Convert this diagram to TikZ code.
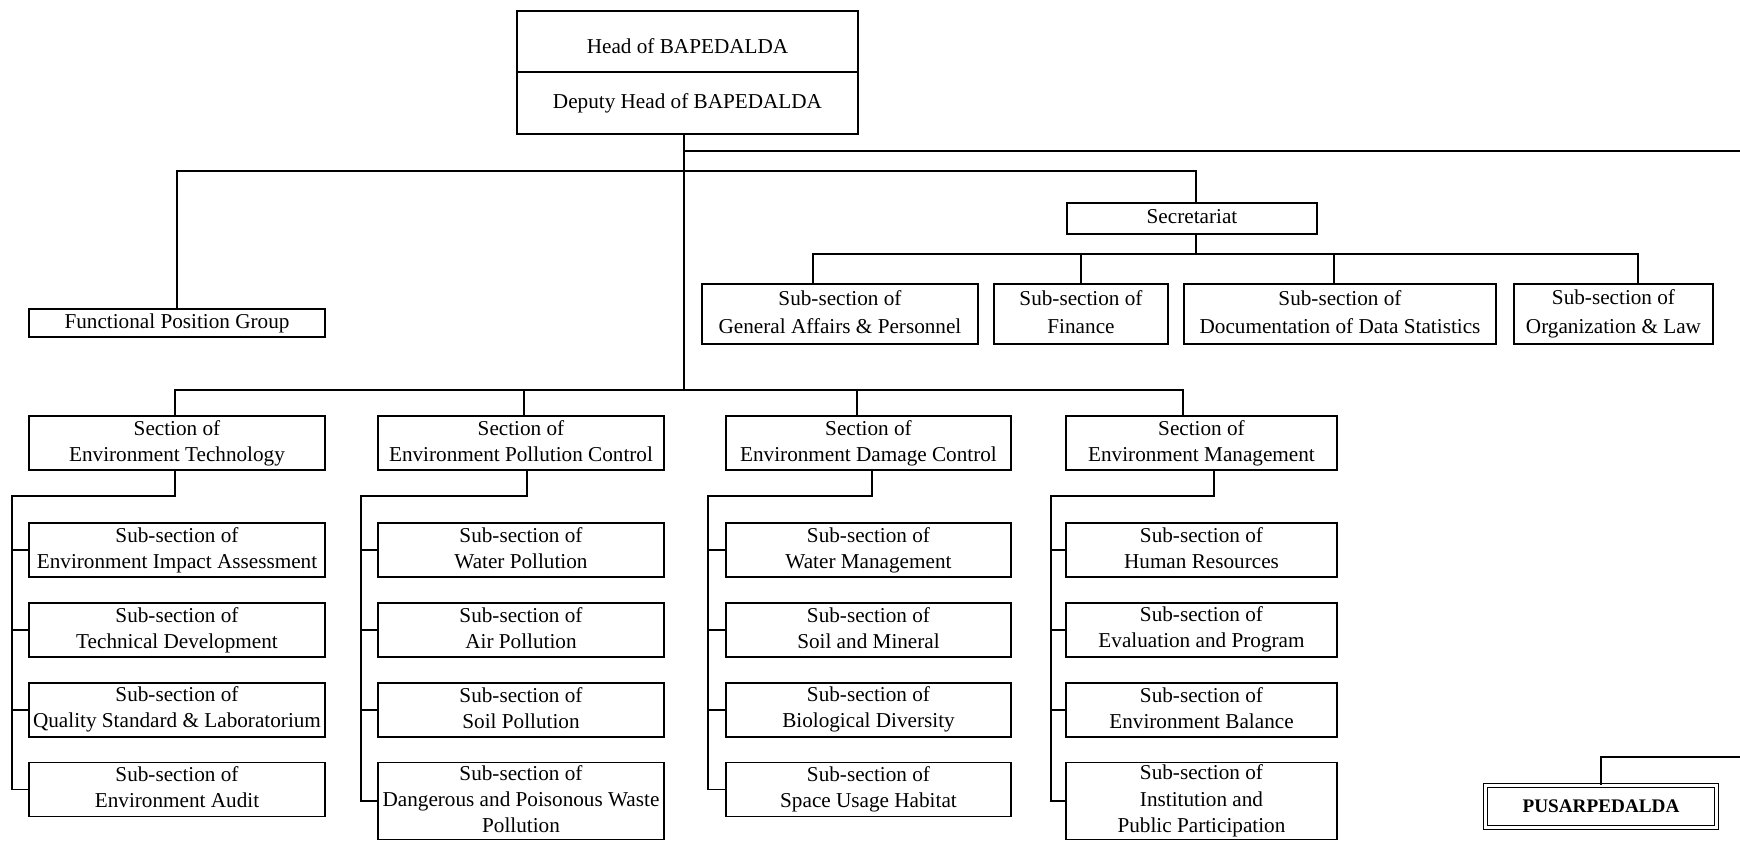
\documentclass[tikz,border=0pt]{standalone}
\usepackage{fontspec}
\setmainfont{Liberation Serif}
\usetikzlibrary{positioning}
\newcommand{\boxstrut}{\rule[-1.9pt]{0pt}{12.8pt}}

\begin{document}
\begin{tikzpicture}[x=0.5pt, y=-0.5pt,
    frame/.style={draw, line width=0.9pt, align=center, inner sep=0pt},
    box/.style={frame, font=\fontsize{10.6}{12.6}\selectfont,
      execute at begin node=\strut, execute at end node=\strut},
    unit/.style={frame, minimum height=27pt, font=\fontsize{10.6}{13}\selectfont,
      execute at begin node=\boxstrut, execute at end node=\boxstrut},
    wide/.style={unit, minimum height=30pt, font=\fontsize{10.6}{14.2}\selectfont},
    tall/.style={unit, minimum height=38.5pt, font=\fontsize{10.6}{13.2}\selectfont},
    link/.style={line width=0.9pt}]
    \useasboundingbox (0,0) rectangle (1740,842);

    % Heads
    % ---------------------
    \node[box, minimum width=170.5pt, minimum height=30.5pt] (head) at (687.5,41.5) {\raisebox{-3.5pt}{Head of BAPEDALDA}};
    \node[box, minimum width=170.5pt, minimum height=31pt, below=-0.9pt of head] (deputy) {Deputy Head of BAPEDALDA};

    % Staff line
    % ---------------------
    \node[box, minimum width=148pt, minimum height=14pt] (func) at (177,323) {Functional Position Group};
    \node[box, minimum width=125pt, minimum height=15.5pt] (secr) at (1192,218.5) {Secretariat};
    \node[wide, minimum width=138pt] (gen) at (840,314) {Sub-section of\\General Affairs \& Personnel};
    \node[wide, minimum width=87pt] (fin) at (1081,314) {Sub-section of\\Finance};
    \node[wide, minimum width=156pt] (doc) at (1340,314) {Sub-section of\\Documentation of Data Statistics};
    \node[wide, minimum width=99.5pt] (org) at (1613.5,314) {Sub-section of\\Organization \& Law};
    \node[draw, double, double distance=1.5pt, line width=0.6pt, inner sep=0pt,
      minimum width=115.3pt, minimum height=20.8pt, font=\fontsize{9.6}{11}\selectfont\bfseries] (pus) at (1601,806.5) {PUSARPEDALDA};

    % Sections
    % ---------------------
    \node[unit, minimum width=148pt] (tech) at (177,443) {Section of\\Environment Technology};
    \node[unit, minimum width=143pt] (poll) at (521,443) {Section of\\Environment Pollution Control};
    \node[unit, minimum width=142.5pt] (dmg) at (868.5,443) {Section of\\Environment Damage Control};
    \node[unit, minimum width=135.5pt] (mgmt) at (1201.5,443) {Section of\\Environment Management};

    % Sub-sections, technology
    \node[unit, minimum width=148pt] (t1) at (177,550) {Sub-section of\\Environment Impact Assessment};
    \node[unit, minimum width=148pt, below=12pt of t1] (t2) {Sub-section of\\Technical Development};
    \node[unit, minimum width=148pt, below=12pt of t2] (t3) {Sub-section of\\Quality Standard \& Laboratorium};
    \node[unit, minimum width=148pt, below=12pt of t3] (t4) {Sub-section of\\Environment Audit};

    % Sub-sections, pollution control
    \node[unit, minimum width=143pt] (p1) at (521,550) {Sub-section of\\Water Pollution};
    \node[unit, minimum width=143pt, below=12pt of p1] (p2) {Sub-section of\\Air Pollution};
    \node[unit, minimum width=143pt, below=12pt of p2] (p3) {Sub-section of\\Soil Pollution};
    \node[tall, minimum width=143pt, below=12pt of p3] (p4) {Sub-section of\\Dangerous and Poisonous Waste\\Pollution};

    % Sub-sections, damage control
    \node[unit, minimum width=142.5pt] (d1) at (868.5,550) {Sub-section of\\Water Management};
    \node[unit, minimum width=142.5pt, below=12pt of d1] (d2) {Sub-section of\\Soil and Mineral};
    \node[unit, minimum width=142.5pt, below=12pt of d2] (d3) {Sub-section of\\Biological Diversity};
    \node[unit, minimum width=142.5pt, below=12pt of d3] (d4) {Sub-section of\\Space Usage Habitat};

    % Sub-sections, management
    \node[unit, minimum width=135.5pt] (m1) at (1201.5,550) {Sub-section of\\Human Resources};
    \node[unit, minimum width=135.5pt, below=12pt of m1] (m2) {Sub-section of\\Evaluation and Program};
    \node[unit, minimum width=135.5pt, below=12pt of m2] (m3) {Sub-section of\\Environment Balance};
    \node[tall, minimum width=135.5pt, below=12pt of m3] (m4) {Sub-section of\\Institution and\\Public Participation};

    % Rails
    % ---------------------
    \coordinate (toprail) at (1740,151);
    \coordinate (siderail) at (0,171);
    \coordinate (secrail) at (0,254);
    \coordinate (sectionrail) at (0,390);
    \coordinate (subrail) at (0,496);
    \coordinate (pusrail) at (1740,757);

    \draw[link] ([xshift=-1.75pt]deputy.south) -- ([xshift=-1.75pt]deputy.south |- sectionrail);
    \draw[link] ([xshift=-1.75pt]deputy.south |- toprail) -- (toprail);
    \draw[link] (func.north) |- ([xshift=2pt]secr.north |- siderail) -- ([xshift=2pt]secr.north);
    \draw[link] (pus.north) |- (pusrail);

    % Secretariat
    \draw[link] ([xshift=2pt]secr.south) -- ([xshift=2pt]secr.south |- secrail);
    \draw[link] ([xshift=-13.5pt]gen.north) |- ([xshift=12.25pt]org.north |- secrail) -- ([xshift=12.25pt]org.north);
    \draw[link] (fin.north) -- (fin.north |- secrail);
    \draw[link] ([xshift=-3pt]doc.north) -- ([xshift=-3pt]doc.north |- secrail);

    % Sections
    \draw[link] ([xshift=-1pt]tech.north) |- ([xshift=-9.25pt]mgmt.north |- sectionrail) -- ([xshift=-9.25pt]mgmt.north);
    \draw[link] ([xshift=1.5pt]poll.north) -- ([xshift=1.5pt]poll.north |- sectionrail);
    \draw[link] ([xshift=-5.75pt]dmg.north) -- ([xshift=-5.75pt]dmg.north |- sectionrail);

    % Sub-sections
    \draw[link] ([xshift=-1pt]tech.south) -- ([xshift=-1pt]tech.south |- subrail) -| ([xshift=-8pt]t4.west) -- (t4.west);
    \draw[link] ([xshift=-8pt]t1.west) -- (t1.west);
    \draw[link] ([xshift=-8pt]t2.west) -- (t2.west);
    \draw[link] ([xshift=-8pt]t3.west) -- (t3.west);

    \draw[link] ([xshift=3pt]poll.south) -- ([xshift=3pt]poll.south |- subrail) -| ([xshift=-8pt]p4.west) -- (p4.west);
    \draw[link] ([xshift=-8pt]p1.west) -- (p1.west);
    \draw[link] ([xshift=-8pt]p2.west) -- (p2.west);
    \draw[link] ([xshift=-8pt]p3.west) -- (p3.west);

    \draw[link] ([xshift=1.75pt]dmg.south) -- ([xshift=1.75pt]dmg.south |- subrail) -| ([xshift=-8.5pt]d4.west) -- (d4.west);
    \draw[link] ([xshift=-8.5pt]d1.west) -- (d1.west);
    \draw[link] ([xshift=-8.5pt]d2.west) -- (d2.west);
    \draw[link] ([xshift=-8.5pt]d3.west) -- (d3.west);

    \draw[link] ([xshift=6.25pt]mgmt.south) -- ([xshift=6.25pt]mgmt.south |- subrail) -| ([xshift=-7pt]m4.west) -- (m4.west);
    \draw[link] ([xshift=-7pt]m1.west) -- (m1.west);
    \draw[link] ([xshift=-7pt]m2.west) -- (m2.west);
    \draw[link] ([xshift=-7pt]m3.west) -- (m3.west);
\end{tikzpicture}
\end{document}
